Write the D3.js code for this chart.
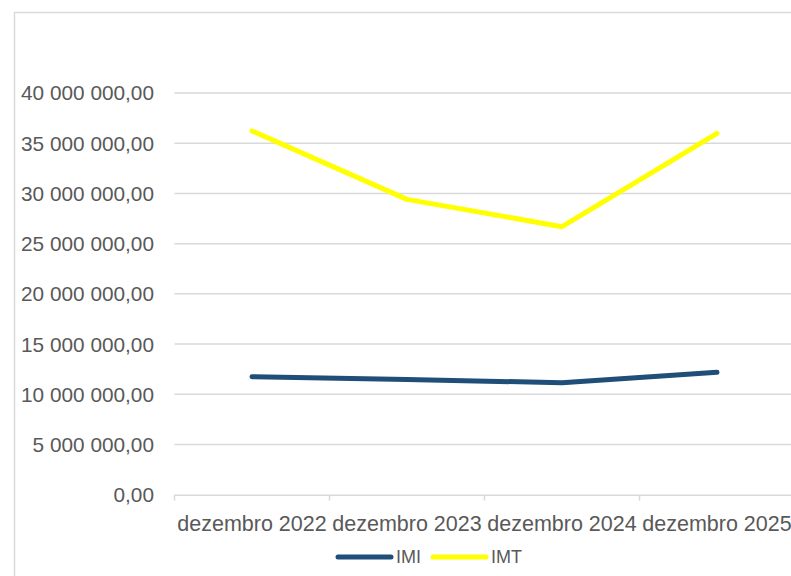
<!DOCTYPE html>
<html>
<head>
<meta charset="utf-8">
<script src="https://cdn.jsdelivr.net/npm/d3@7"></script>
<style>
  body { margin: 0; background: #fff; }
  text { font-family: "Liberation Sans", Arial, sans-serif; fill: #595959; }
</style>
</head>
<body>
<div class="canvas"></div>
<script>
const categories = ["dezembro 2022", "dezembro 2023", "dezembro 2024", "dezembro 2025"];
const imiValues = [11750000, 11470000, 11150000, 12190000];
const imtValues = [36220000, 29410000, 26690000, 35990000];
const yTicks = [0, 5000000, 10000000, 15000000, 20000000, 25000000, 30000000, 35000000, 40000000];

const series = [
  { name: "IMI", values: imiValues, color: "#1f4e79" },
  { name: "IMT", values: imtValues, color: "#ffff00" }
];

const dims = { width: 791, height: 576 };
const plot = { left: 174.5, right: 794.5, top: 93, bottom: 494.7 };

const svg = d3
  .select(".canvas")
  .append("svg")
  .attr("width", dims.width)
  .attr("height", dims.height);

// chart border
svg
  .append("rect")
  .attr("x", 14.5)
  .attr("y", 12.5)
  .attr("width", 800)
  .attr("height", 600)
  .attr("fill", "none")
  .attr("stroke", "#d9d9d9")
  .attr("stroke-width", 1.5);

const x = d3.scaleBand().domain(categories).range([plot.left, plot.right]);
const y = d3.scaleLinear().domain([0, 40000000]).range([plot.bottom, plot.top]);

const fmt = (v) => {
  const s = d3.format(",.2f")(v);
  return s.replace(/,/g, " ").replace(".", ",");
};

// gridlines
svg
  .append("g")
  .selectAll("line")
  .data(yTicks.filter((d) => d > 0))
  .enter()
  .append("line")
  .attr("x1", plot.left)
  .attr("x2", plot.right)
  .attr("y1", (d) => y(d))
  .attr("y2", (d) => y(d))
  .attr("stroke", "#d9d9d9")
  .attr("stroke-width", 1.5);

// y labels
svg
  .append("g")
  .selectAll("text")
  .data(yTicks)
  .enter()
  .append("text")
  .attr("x", 154)
  .attr("y", (d) => y(d))
  .attr("dy", "0.36em")
  .attr("text-anchor", "end")
  .attr("font-size", 20.8)
  .text(fmt);

// x axis
const xAxis = svg
  .append("g")
  .attr("transform", `translate(0,${y(0)})`)
  .call(d3.axisBottom(x).tickSize(0).tickFormat(""));
xAxis.select(".domain").attr("stroke", "#d9d9d9").attr("stroke-width", 1.5);

const bounds = categories.map((c) => x(c)).concat([plot.right]);
xAxis
  .selectAll(".tick-mark")
  .data(bounds)
  .enter()
  .append("line")
  .attr("x1", (d) => d)
  .attr("x2", (d) => d)
  .attr("y1", 0)
  .attr("y2", 6)
  .attr("stroke", "#d9d9d9")
  .attr("stroke-width", 1.5);

svg
  .append("g")
  .selectAll("text")
  .data(categories)
  .enter()
  .append("text")
  .attr("x", (d) => x(d) + x.bandwidth() / 2)
  .attr("y", 531)
  .attr("text-anchor", "middle")
  .attr("font-size", 21.5)
  .text((d) => d);

// lines
const line = d3
  .line()
  .x((d, i) => x(categories[i]) + x.bandwidth() / 2)
  .y((d) => y(d));

svg
  .append("g")
  .selectAll("path")
  .data(series)
  .enter()
  .append("path")
  .attr("d", (d) => line(d.values))
  .attr("fill", "none")
  .attr("stroke", (d) => d.color)
  .attr("stroke-width", 5)
  .attr("stroke-linecap", "round")
  .attr("stroke-linejoin", "round");

// legend
const legendX = [338, 433];
const legend = svg
  .append("g")
  .selectAll("g")
  .data(series)
  .enter()
  .append("g")
  .attr("transform", (d, i) => `translate(${legendX[i]},557)`);

legend
  .append("line")
  .attr("x1", 0)
  .attr("x2", 53)
  .attr("stroke", (d) => d.color)
  .attr("stroke-width", 5)
  .attr("stroke-linecap", "round");

legend
  .append("text")
  .attr("x", 58)
  .attr("dy", "0.36em")
  .attr("font-size", 18)
  .text((d) => d.name);
</script>
</body>
</html>
